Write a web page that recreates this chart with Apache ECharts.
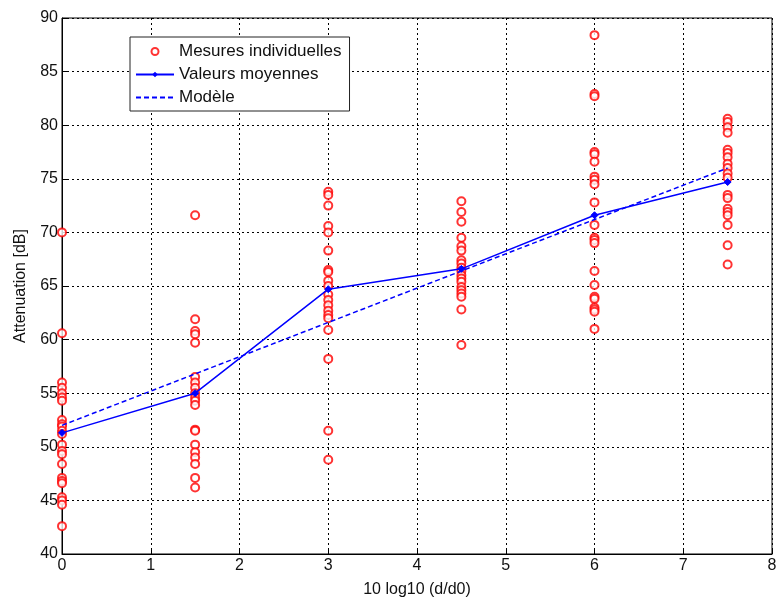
<!DOCTYPE html>
<html><head><meta charset="utf-8">
<script src="https://cdn.jsdelivr.net/npm/echarts@6/dist/echarts.min.js"></script>
<style>html,body{margin:0;padding:0;background:#fff}#c{width:776px;height:599px}</style>
</head><body><div id="c"></div>
<script>
const xPositions = [0, 1.5, 3, 4.5, 6, 7.5];
const measures0 = [70.0, 60.6, 56.0, 55.5, 55.0, 54.6, 54.3, 52.5, 52.1, 51.9, 51.5, 51.2, 50.2, 49.6, 49.3, 48.4, 47.1, 46.8, 46.6, 45.3, 45.0, 44.6, 42.6];
const measures1 = [71.6, 61.9, 60.8, 60.5, 59.7, 56.5, 56.0, 55.5, 55.0, 54.6, 54.3, 53.9, 51.6, 51.5, 50.2, 49.5, 49.0, 48.4, 47.1, 46.2];
const measures2 = [73.8, 73.5, 72.5, 70.6, 70.0, 68.3, 66.5, 66.3, 65.5, 65.0, 64.2, 63.7, 63.2, 62.7, 62.3, 62.0, 60.9, 58.2, 51.5, 48.8];
const measures3 = [72.9, 71.9, 71.0, 69.5, 68.7, 68.3, 67.4, 67.1, 66.7, 66.4, 66.0, 65.7, 65.4, 64.9, 64.6, 64.3, 64.0, 62.8, 59.5];
const measures4 = [88.4, 82.9, 82.7, 77.5, 77.3, 76.6, 75.2, 74.9, 74.5, 72.8, 70.7, 69.5, 69.3, 69.0, 66.4, 65.1, 64.0, 63.8, 63.0, 62.8, 62.6, 61.0];
const measures5 = [80.6, 80.3, 79.8, 79.3, 77.7, 77.4, 77.0, 76.4, 76.0, 75.5, 75.1, 73.5, 73.2, 72.2, 71.9, 71.6, 70.7, 68.8, 67.0];
const meanValues = [51.3, 55.0, 64.7, 66.6, 71.6, 74.7];
const modelValues = [52.0, 56.8, 61.6, 66.4, 71.2, 76.0];
const xTicks = [0,1,2,3,4,5,6,7,8];
const yTicks = [40,45,50,55,60,65,70,75,80,85,90];

const allMeasures = [measures0, measures1, measures2, measures3, measures4, measures5];
const scatterData = [];
allMeasures.forEach((arr, i) => arr.forEach(v => scatterData.push([xPositions[i], v])));
const meanData = xPositions.map((x, i) => [x, meanValues[i]]);
const modelData = xPositions.map((x, i) => [x, modelValues[i]]);

const font = 'Liberation Sans, Arial, sans-serif';
const chart = echarts.init(document.getElementById('c'), null, {renderer: 'canvas'});
chart.setOption({
  backgroundColor: '#fff',
  animation: false,
  grid: {left: 62, right: 4, top: 18, bottom: 45, show: true, borderColor: '#000', borderWidth: 1, backgroundColor: '#fff', outerBoundsMode: 'none', containLabel: false},
  legend: {
    orient: 'vertical', left: 130, top: 37,
    backgroundColor: '#fff', borderColor: '#222', borderWidth: 1, borderRadius: 0,
    padding: [6, 8, 5, 5], itemGap: 6, itemWidth: 38, itemHeight: 7,
    textStyle: {fontFamily: font, fontSize: 17, color: '#111', lineHeight: 17},
    data: [
      {name: 'Mesures individuelles', icon: 'emptyCircle'},
      {name: 'Valeurs moyennes'},
      {name: 'Modèle', itemStyle: {opacity: 0}}
    ]
  },
  xAxis: {
    type: 'value', min: 0, max: 8, interval: 1,
    name: '10 log10 (d/d0)', nameLocation: 'middle', nameGap: 28,
    nameTextStyle: {fontFamily: font, fontSize: 16, color: '#111'},
    axisLine: {lineStyle: {color: '#000'}},
    axisTick: {inside: true, length: 5, lineStyle: {color: '#000'}},
    axisLabel: {fontFamily: font, fontSize: 16, color: '#111', margin: 4},
    splitLine: {show: true, lineStyle: {color: '#000', type: [2, 3], width: 1}}
  },
  yAxis: {
    type: 'value', min: 40, max: 90, interval: 5,
    name: 'Attenuation [dB]', nameLocation: 'middle', nameGap: 33,
    nameTextStyle: {fontFamily: font, fontSize: 16, color: '#111'},
    axisLine: {lineStyle: {color: '#000'}},
    axisTick: {inside: true, length: 5, lineStyle: {color: '#000'}},
    axisLabel: {fontFamily: font, fontSize: 16, color: '#111', margin: 4},
    splitLine: {show: true, lineStyle: {color: '#000', type: [2, 3], width: 1}}
  },
  series: [
    {
      name: 'Mesures individuelles', type: 'scatter', data: scatterData,
      symbol: 'emptyCircle', symbolSize: 8,
      itemStyle: {color: '#f00', borderColor: '#f00', borderWidth: 1.1}, z: 3
    },
    {
      name: 'Valeurs moyennes', type: 'line', data: meanData,
      symbol: 'diamond', symbolSize: 7, showSymbol: true,
      lineStyle: {color: '#0000ff', width: 1.5}, itemStyle: {color: '#0000ff', borderColor: '#0000ff'}, z: 4
    },
    {
      name: 'Modèle', type: 'line', data: modelData,
      symbol: 'none',
      lineStyle: {color: '#0000ff', width: 1.5, type: [5, 3]}, itemStyle: {color: '#0000ff'}, z: 4
    }
  ]
});
</script></body></html>
